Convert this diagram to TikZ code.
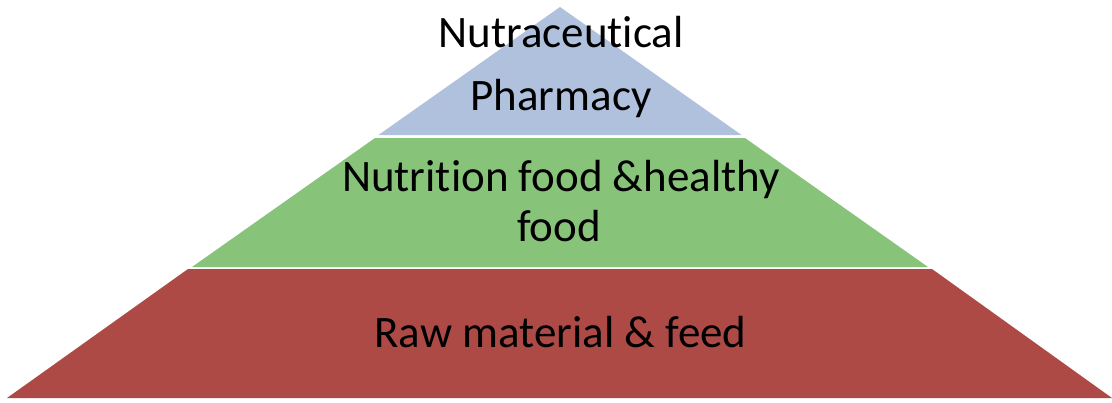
\documentclass[tikz,border=0pt]{standalone}
\usepackage{fontspec}
\setmainfont{Carlito}[Ligatures=NoCommon]
\definecolor{topblue}{RGB}{176,193,222}
\definecolor{midgreen}{RGB}{135,196,122}
\definecolor{botred}{RGB}{173,74,70}
\begin{document}
\begin{tikzpicture}[x=1pt,y=-1pt,
  lbl/.style={anchor=base,inner sep=0pt,font=\fontsize{45}{54}\selectfont}]
\useasboundingbox[fill=white] (0,0) rectangle (1112,402);
% top band
\fill[topblue] (560,7) -- (741.5,135) -- (378.5,135) -- cycle;
% middle band
\fill[midgreen] (375,138) -- (745,138) -- (928,267) -- (192,267) -- cycle;
% bottom band
\fill[botred] (188,269) -- (932,269) -- (1112,398) -- (7,398) -- cycle;
\node[lbl] (t1) at (561,47) {Nutraceutical};
\node[lbl] (t2) at (561,110) {Pharmacy};
\node[lbl] (m1) at (561,191) {Nutrition food \&healthy};
\node[lbl] (m2) at (559,241) {food};
\node[lbl] (b1) at (560.5,347) {Raw material \& feed};
\end{tikzpicture}
\end{document}
